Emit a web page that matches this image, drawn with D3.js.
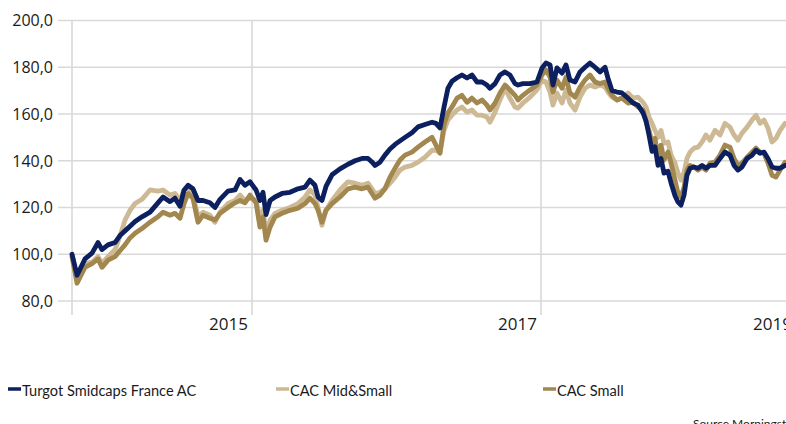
<!DOCTYPE html>
<html>
<head>
<meta charset="utf-8">
<script src="https://cdn.jsdelivr.net/npm/d3@7"></script>
<style>
  body { margin: 0; background: #fff; }
  svg { display: block; font-family: "Open Sans", sans-serif; }
</style>
</head>
<body>
<svg id="chart" width="786" height="424"></svg>
<script>
// time positions (fractional years) shared by the three series
const times = [
  2013.750, 2013.785, 2013.840, 2013.889, 2013.931, 2013.958, 2014.000, 2014.049, 2014.083, 2014.118,
  2014.153, 2014.188, 2014.236, 2014.292, 2014.347, 2014.382, 2014.431, 2014.465, 2014.500, 2014.528,
  2014.556, 2014.590, 2014.625, 2014.660, 2014.708, 2014.743, 2014.778, 2014.833, 2014.882, 2014.917,
  2014.951, 2014.986,
  2015.028, 2015.055, 2015.076, 2015.097, 2015.125, 2015.159, 2015.208, 2015.263, 2015.318, 2015.367,
  2015.401, 2015.436, 2015.457, 2015.484, 2015.512, 2015.554, 2015.609, 2015.664, 2015.713, 2015.761,
  2015.803, 2015.830, 2015.851, 2015.886, 2015.920, 2015.955, 2015.990, 2016.024, 2016.059, 2016.107,
  2016.149, 2016.197, 2016.246, 2016.273, 2016.301, 2016.329, 2016.356,
  2016.384, 2016.419, 2016.453, 2016.488, 2016.522, 2016.557, 2016.592, 2016.626, 2016.647, 2016.682,
  2016.716, 2016.751, 2016.785, 2016.820, 2016.841, 2016.875, 2016.924, 2016.972,
  2017.008, 2017.039, 2017.071, 2017.094, 2017.125, 2017.165, 2017.196, 2017.227, 2017.267, 2017.306,
  2017.345, 2017.384, 2017.424, 2017.463, 2017.502, 2017.525, 2017.557, 2017.596, 2017.635,
  2017.682, 2017.722, 2017.761, 2017.800, 2017.824, 2017.847, 2017.871, 2017.894, 2017.918, 2017.941,
  2017.965, 2017.996, 2018.020, 2018.051, 2018.075, 2018.098, 2018.122, 2018.145, 2018.169, 2018.200,
  2018.231, 2018.263, 2018.294, 2018.325, 2018.365, 2018.404, 2018.443, 2018.482, 2018.514, 2018.545,
  2018.576, 2018.616, 2018.655, 2018.686, 2018.718, 2018.749, 2018.780, 2018.812, 2018.843, 2018.875,
  2018.914
];

const turgot = [
  100, 91, 98, 100.5, 105, 102, 104, 105, 108, 110,
  112, 114, 116, 118, 122, 124.5, 122.5, 124, 120.5, 127.4,
  129.5, 128, 123, 123, 122, 120, 123.5, 127, 127.5, 132,
  129.5, 131,
  127.5, 123, 126.5, 117, 123, 124.5, 126, 126.5, 128, 128.7,
  131.7, 129.5, 124.5, 123, 129, 134, 136.5, 138.5, 140, 141,
  141, 139.5, 138, 139.4, 142.4, 145, 147, 148.5, 150, 152,
  154.5, 155.5, 156.5, 156, 154, 163, 171,
  174, 175.5, 176.7, 175.4, 176.7, 173.7, 173.7, 172.4, 171, 173,
  176.7, 178, 176.7, 173, 172.4, 173, 173, 173.7,
  179.7, 181.8, 181, 172.4, 179.7, 177.5, 181, 174.5, 173.7, 178,
  180, 181.8, 180, 178, 180, 175.4, 170, 169.4, 169,
  166.8, 164.7, 163.8, 160.5, 157, 151, 144, 146, 138, 141,
  134.7, 135.5, 130.5, 125, 122.3, 121, 125.3, 133.8, 136.8, 137.3,
  136.8, 138, 136.8, 138, 138, 141, 143.7, 142.4, 138, 136,
  137.3, 141, 142.4, 144.5, 143.2, 143.7, 141, 137.3, 136.8, 136.8,
  138
];

const midSmall = [
  100, 89, 96, 96.6, 99, 96, 99, 102, 107.7, 114.6,
  118.8, 121.7, 123.5, 127.5, 127, 127.5, 125.3, 126, 123, 127.5,
  128.7, 125.3, 116, 118, 116.7, 113.7, 118, 121.7, 123, 125.3,
  123, 124,
  123, 115.4, 118.8, 109, 114.6, 117.5, 118.8, 120, 121.7, 124.5,
  127.5, 125.3, 120, 112.4, 118.8, 123, 127.5, 131, 130.4, 129.5,
  130.4, 128, 126, 126.5, 128, 130.4, 133, 136, 137.3, 138,
  139.4, 141.5, 144.5, 144.5, 143.5, 153, 157.5,
  159.5, 161.7, 163, 160.8, 161.7, 159.5, 159.5, 158.7, 156.5, 160.8,
  166, 171, 166.8, 163, 162.5, 164.7, 167.2, 170.3,
  174.5, 173.7, 169.4, 163.8, 169, 164.7, 170.3, 164.7, 161.7, 167.2,
  171, 172.4, 171.5, 172.4, 171.5, 169.4, 167.2, 166, 166.8,
  169, 166.8, 167.2, 165, 163, 158.7, 156, 153, 150, 153,
  147.5, 148, 142.4, 139, 134.7, 131.7, 135, 141, 143.7, 145.4,
  145.8, 148, 151, 148.8, 153, 151, 156, 154.4, 151, 148.8,
  151.8, 154.4, 157.4, 159.5, 156, 157.4, 154, 148, 149.6, 153,
  156
];

const small = [
  99, 87.6, 94.4, 96, 98, 94.4, 97.5, 99, 101.5, 104,
  107, 109, 111, 113.7, 116, 118, 116.7, 117.5, 115.4, 121.7,
  126, 124, 113.7, 116.7, 115.4, 114.6, 117.5, 120, 122, 123,
  122, 125.3,
  122, 111.6, 116, 106, 111.6, 116, 117.5, 118.8, 119.7, 121.7,
  124, 121.7, 118.8, 113.7, 118.8, 121.7, 124.5, 128, 128.7, 128,
  128.7, 126, 124, 125.3, 128, 133, 136.8, 140.3, 142.4, 143.7,
  145.8, 148, 150, 146.7, 143.2, 155.5, 160.5,
  163, 166.8, 168, 165, 166.8, 164.7, 166, 163.8, 161.7, 164.7,
  169, 172.4, 170.3, 168, 166, 168, 170.3, 172.4,
  176.7, 178.8, 175.8, 169.4, 174.5, 171, 175.8, 169, 167.2, 171.5,
  174.5, 176.7, 173.7, 173, 173.7, 171, 168, 166, 166.8,
  164.7, 165, 163, 161.7, 156.6, 153, 147.5, 149.6, 141.5, 146.7,
  140.3, 143.7, 139, 131.7, 126, 124.5, 128.7, 136, 138, 137.3,
  136, 137.3, 136, 139, 139.4, 142.4, 146.7, 145.8, 141, 138,
  139, 141.5, 143.7, 145.4, 143.7, 143.2, 139, 133.8, 133, 136,
  139.4
];

const yTicks = [80, 100, 120, 140, 160, 180, 200];
const xTicks = [2015, 2017, 2019];

const seriesNames = ["Turgot Smidcaps France AC", "CAC Mid&Small", "CAC Small"];
const seriesColors = ["#0c1f5f", "#cdb994", "#a2874f"];

const svg = d3.select("#chart");

// x axis is not evenly spaced in the picture, so use a piecewise scale
const x = d3.scaleLinear()
  .domain([2013.75, 2015, 2017, 2019])
  .range([72, 252, 541, 796]);

const y = d3.scaleLinear()
  .domain([80, 200])
  .range([301, 20.5]);

// horizontal gridlines
svg.append("g")
  .selectAll("line")
  .data(yTicks)
  .join("line")
  .attr("x1", 58)
  .attr("x2", 786)
  .attr("y1", d => y(d))
  .attr("y2", d => y(d))
  .attr("stroke", "#d9d9d9")
  .attr("stroke-width", 1.6);

// vertical gridlines (left axis + year marks)
svg.append("g")
  .selectAll("line")
  .data([2013.75, 2015, 2017])
  .join("line")
  .attr("x1", d => x(d))
  .attr("x2", d => x(d))
  .attr("y1", y(200))
  .attr("y2", 315)
  .attr("stroke", "#d9d9d9")
  .attr("stroke-width", 1.6);

// y labels
svg.append("g")
  .selectAll("text")
  .data(yTicks)
  .join("text")
  .attr("x", 53)
  .attr("y", d => y(d))
  .attr("dy", "0.36em")
  .attr("text-anchor", "end")
  .attr("font-size", 16)
  .attr("fill", "#1a1a1a")
  .text(d => d3.format(".1f")(d).replace(".", ","));

// x labels, sit just left of each year mark
svg.append("g")
  .selectAll("text")
  .data(xTicks)
  .join("text")
  .attr("x", d => x(d) - 4)
  .attr("y", 330)
  .attr("text-anchor", "end")
  .attr("font-size", 17)
  .attr("fill", "#1a1a1a")
  .text(d => d);

// lines
const line = d3.line()
  .x((d, i) => x(times[i]))
  .y(d => y(d));

const drawOrder = [
  { values: midSmall, color: seriesColors[1] },
  { values: small, color: seriesColors[2] },
  { values: turgot, color: seriesColors[0] }
];

svg.append("g")
  .selectAll("path")
  .data(drawOrder)
  .join("path")
  .attr("d", d => line(d.values))
  .attr("fill", "none")
  .attr("stroke", d => d.color)
  .attr("stroke-width", 4.8)
  .attr("stroke-linejoin", "round")
  .attr("stroke-linecap", "round");

// legend
const legendX = [8, 276, 543];
const legend = svg.append("g")
  .selectAll("g")
  .data(seriesNames)
  .join("g")
  .attr("transform", (d, i) => `translate(${legendX[i]},389)`);

legend.append("line")
  .attr("x1", 0)
  .attr("x2", 13)
  .attr("stroke", (d, i) => seriesColors[i])
  .attr("stroke-width", 3.5);

legend.append("text")
  .attr("x", 14)
  .attr("y", 6.5)
  .attr("font-family", "Lato, sans-serif")
  .attr("font-size", 14.6)
  .attr("fill", "#1a1a1a")
  .text(d => d);

svg.append("text")
  .attr("x", 693)
  .attr("y", 428)
  .attr("font-family", "Lato, sans-serif")
  .attr("font-size", 12)
  .attr("fill", "#1a1a1a")
  .text("Source Morningstar");
</script>
</body>
</html>
